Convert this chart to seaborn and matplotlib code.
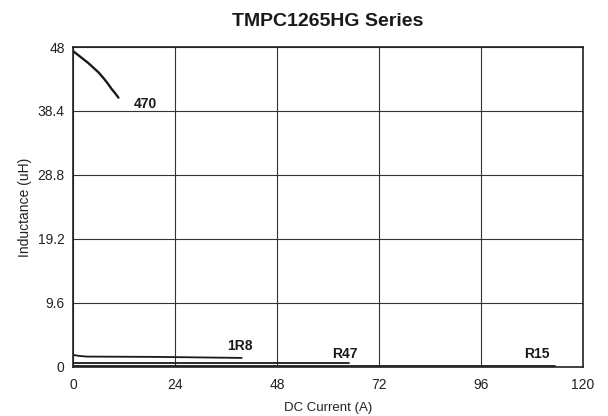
import matplotlib
matplotlib.use("Agg")
import matplotlib.pyplot as plt
import seaborn as sns
import pandas as pd

sns.set_theme(style="white")
plt.rcParams['font.family'] = ['Liberation Sans', 'DejaVu Sans']

# Data
x_470 = [0, 1.2, 2.4, 3.6, 4.8, 6.0, 7.1, 8.1, 9.1, 10.0, 10.7]
y_470 = [47.4, 46.8, 46.2, 45.6, 44.9, 44.2, 43.4, 42.6, 41.7, 41.0, 40.4]
x_1r8 = [0, 1.5, 3.2, 20, 39.7]
y_1r8 = [1.8, 1.65, 1.55, 1.5, 1.35]
x_r47 = [0, 30, 65]
y_r47 = [0.55, 0.55, 0.55]
x_r15 = [0, 60, 113.4]
y_r15 = [0.12, 0.12, 0.12]
labels = ["470", "1R8", "R47", "R15"]
label_x = [17, 39.3, 64, 109.1]
label_y = [39.5, 3.15, 2.0, 1.95]
xticks = [0, 24, 48, 72, 96, 120]
yticks = [0, 9.6, 19.2, 28.8, 38.4, 48]
ytick_labels = ["0", "9.6", "19.2", "28.8", "38.4", "48"]

fig = plt.figure(figsize=(6.08, 4.16), dpi=100)
ax = fig.add_axes([0.120, 0.118, 0.839, 0.769])

series = [(x_470, y_470, 1.7), (x_1r8, y_1r8, 1.3), (x_r47, y_r47, 1.3), (x_r15, y_r15, 1.3)]
for (xs, ys, lw) in series:
    df = pd.DataFrame({"x": xs, "y": ys})
    sns.lineplot(data=df, x="x", y="y", ax=ax, color="#1a1a1a", linewidth=lw,
                 estimator=None, sort=False)

for lab, lx, ly in zip(labels, label_x, label_y):
    ax.text(lx, ly, lab, ha="center", va="center", fontsize=10,
            fontweight="bold", color="#1a1a1a")

ax.set_xlim(0, 120)
ax.set_ylim(0, 48)
ax.set_xticks(xticks)
ax.set_yticks(yticks)
ax.set_yticklabels(ytick_labels)
ax.grid(True, color="#333333", linewidth=0.8)
for s in ax.spines.values():
    s.set_color("#222222")
    s.set_linewidth(1.2)
ax.tick_params(axis="both", labelsize=10, colors="#222222", length=0, pad=6)
ax.tick_params(axis="x", pad=8)
ax.set_xlabel("DC Current (A)", fontsize=9.5, color="#222222", labelpad=7)
ax.set_ylabel("Inductance (uH)", fontsize=10, color="#222222", labelpad=4)
ax.set_title("TMPC1265HG Series", fontsize=14, fontweight="bold", color="#1a1a1a", pad=15)

fig.savefig("out.png", dpi=100)
